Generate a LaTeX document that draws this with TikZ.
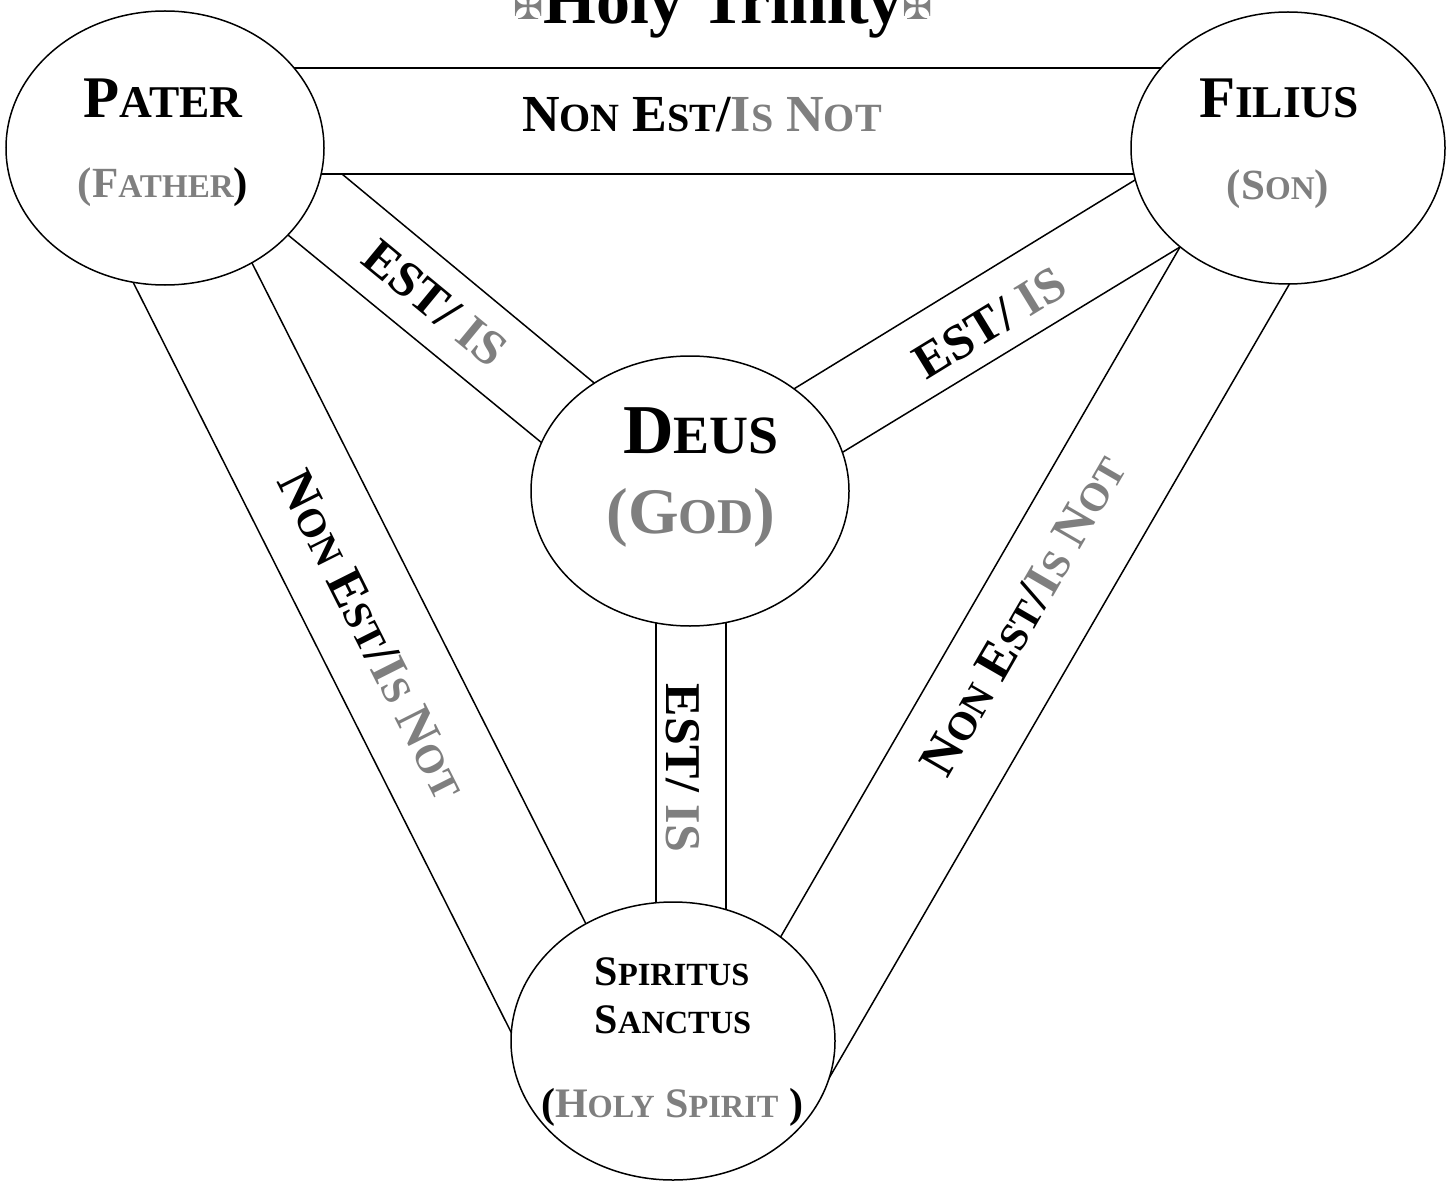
\documentclass[tikz,border=0pt]{standalone}
\usepackage{graphicx}
\usepackage{fontspec}
\setmainfont{Liberation Serif}
\newfontfamily\symfont{DejaVu Sans}
\usetikzlibrary{shapes.geometric,calc}
\definecolor{eng}{RGB}{127,127,127}
\newcommand\sm[1]{\scalebox{0.77}{#1}}
\newcommand\fsz[1]{\fontsize{#1}{#1}\selectfont\bfseries}
\newcommand\bandline[2]{\draw[band] ($(#1)!-10pt!(#2)$) -- ($(#2)!-10pt!(#1)$);}
\newcommand\nonest{N\sm{ON} E\sm{ST}/\textcolor{eng}{I\sm{S} N\sm{OT}}}
\begin{document}
\begin{tikzpicture}[x=1pt,y=-1pt,
  bubble/.style={ellipse, draw, fill=white, inner sep=0pt, line width=1.5pt},
  band/.style={draw, line width=1.5pt},
  txt/.style={inner sep=0pt, anchor=base},
  rlbl/.style={inner sep=0pt, anchor=center, font=\fsz{50}},
  nlbl/.style={inner sep=0pt, anchor=center, font=\fsz{52}},
]
\useasboundingbox (0,0) rectangle (1453,1182);
\clip (0,0) rectangle (1453,1182);

% centres
\coordinate (P) at (165,148);
\coordinate (F) at (1288,148);
\coordinate (D) at (690,491);
\coordinate (S) at (673,1041);

% band end points
\coordinate (pfa1) at (292,68);   \coordinate (pfb1) at (1161,68);
\coordinate (pfa2) at (320,174);  \coordinate (pfb2) at (1135,174);
\coordinate (pda1) at (342,174);  \coordinate (pdb1) at (593,382);
\coordinate (pda2) at (288,235);  \coordinate (pdb2) at (542,443);
\coordinate (fda1) at (1135,180); \coordinate (fdb1) at (797,387);
\coordinate (fda2) at (1180,247); \coordinate (fdb2) at (843,452);
\coordinate (dsa1) at (656,623);  \coordinate (dsb1) at (656,903);
\coordinate (dsa2) at (726,623);  \coordinate (dsb2) at (726,908);
\coordinate (psa1) at (133,282);  \coordinate (psb1) at (510,1030);
\coordinate (psa2) at (252,263);  \coordinate (psb2) at (585,922);
\coordinate (fsa1) at (1290,283); \coordinate (fsb1) at (828,1080);
\coordinate (fsa2) at (1180,247); \coordinate (fsb2) at (780,938);

% connectors (bands)
\bandline{pfa1}{pfb1}
\bandline{pfa2}{pfb2}
\draw[band] (pda1) -- ($(pdb1)!-10pt!(pda1)$);
\bandline{pda2}{pdb2}
\bandline{fda1}{fdb1}
\bandline{fda2}{fdb2}
\bandline{dsa1}{dsb1}
\bandline{dsa2}{dsb2}
\bandline{psa1}{psb1}
\bandline{psa2}{psb2}
\bandline{fsa1}{fsb1}
\bandline{fsa2}{fsb2}

% persons
\node[bubble, minimum width=318pt, minimum height=274pt] (pater) at (P) {};
\node[bubble, minimum width=314pt, minimum height=272pt] (filius) at (F) {};
\node[bubble, minimum width=318pt, minimum height=270pt] (deus) at (D) {};
\node[bubble, minimum width=324pt, minimum height=278pt] (spiritus) at (S) {};

% title
\node[txt, font=\fsz{68}] (title) at (723,24)
  {\raisebox{4pt}{\symfont\fontsize{36}{36}\selectfont\color{eng}✠}Holy Trinity\raisebox{4pt}{\symfont\fontsize{36}{36}\selectfont\color{eng}✠}};

% node texts
\node[txt, font=\fsz{59}] (paterT) at (163,118) {P\sm{ATER}};
\node[txt, font=\fsz{43}] (paterE) at (163,198) {\textcolor{eng}{(F\sm{ATHER}})};
\node[txt, font=\fsz{59}] (filiusT) at (1279,118) {F\sm{ILIUS}};
\node[txt, font=\fsz{43}, text=eng] (filiusE) at (1278,200) {(S\sm{ON})};
\node[txt, font=\fsz{70}] (deusT) at (701,453) {D\sm{EUS}};
\node[txt, font=\fsz{65}, text=eng] (deusE) at (691,533) {(G\sm{OD})};
\node[txt, font=\fsz{42}] (spiritusT1) at (672,985) {S\sm{PIRITUS}};
\node[txt, font=\fsz{42}] (spiritusT2) at (673,1033) {S\sm{ANCTUS}};
\node[txt, font=\fsz{42}] (spiritusE) at (672,1117) {(\textcolor{eng}{H\sm{OLY} S\sm{PIRIT}} )};

% connector labels
\node[txt, font=\fsz{52}] (lpf) at (702,132) {\nonest};
\node[rlbl, rotate=-39.5] (lpd) at (435,303) {EST/ \textcolor{eng}{IS}};
\node[rlbl, rotate=31.5] (lfd) at (990,323) {EST/ \textcolor{eng}{IS}};
\node[rlbl, rotate=-90] (lds) at (683,768) {EST/ \textcolor{eng}{IS}};
\node[nlbl, rotate=-63.3] (lps) at (372,635) {\nonest};
\node[nlbl, rotate=59.9] (lfs) at (1023,615) {\nonest};
\end{tikzpicture}
\end{document}
